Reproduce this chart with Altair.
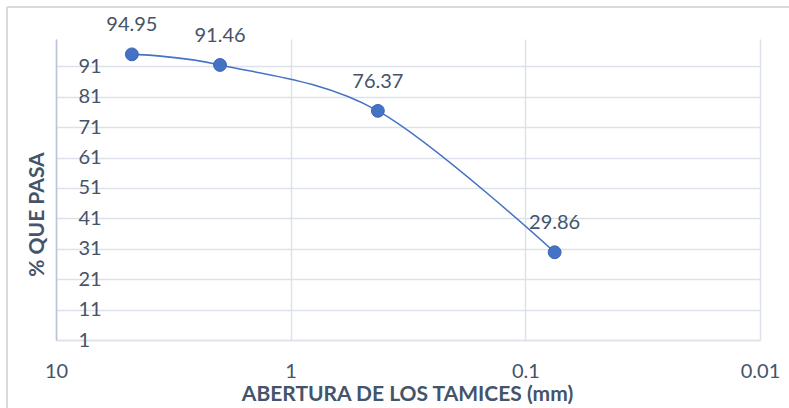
import altair as alt
import pandas as pd

aberturas = [4.75, 2.0, 0.425, 0.075]
pasa = [94.95, 91.46, 76.37, 29.86]
y_ticks = [1, 11, 21, 31, 41, 51, 61, 71, 81, 91]
x_ticks = [10, 1, 0.1, 0.01]

df = pd.DataFrame({"abertura": aberturas, "pasa": pasa})

TXT = "#44546A"
BLUE = "#4472C4"
GRID = "#DDE2EA"
FONT = "Lato"

x_enc = alt.X(
    "abertura:Q",
    scale=alt.Scale(type="log", domain=[0.01, 10], reverse=True, nice=False),
    axis=alt.Axis(
        values=x_ticks, tickCount=20, format="~g", ticks=False, labelPadding=21,
        labelFlush=False, labelOverlap=False,
        labelFont=FONT, labelFontSize=20, labelColor=TXT,
        domainColor=GRID, domainWidth=1.5, gridColor=GRID, gridWidth=1.5,
        title="ABERTURA DE LOS TAMICES (mm)", titleFont=FONT, titleFontSize=21,
        titleFontWeight="bold", titleColor=TXT, titleX=351, titleY=54,
        titleAlign="center", titleBaseline="middle",
    ),
)
y_enc = alt.Y(
    "pasa:Q",
    scale=alt.Scale(domain=[1, 100], nice=False, zero=False),
    axis=alt.Axis(
        values=y_ticks, tickCount=20, ticks=False, labelAlign="left", labelPadding=-22,
        labelBaseline="middle", labelFlush=False, labelOverlap=False,
        labelFont=FONT, labelFontSize=20, labelColor=TXT,
        domainColor="#B7C4DA", domainWidth=1.5, gridColor=GRID, gridWidth=1.5,
        title="% QUE PASA", titleFont=FONT, titleFontSize=21,
        titleFontWeight="bold", titleColor=TXT, titleAngle=270,
        titleX=-19, titleY=175, titleAlign="center", titleBaseline="middle",
    ),
)

base = alt.Chart(df)

frame_left = base.mark_rule(color="#D9D9D9", strokeWidth=1.5).encode(
    x=alt.value(-49), y=alt.value(-32), y2=alt.value(420)
)
frame_top = base.mark_rule(color="#D9D9D9", strokeWidth=1.5).encode(
    x=alt.value(-49), x2=alt.value(800), y=alt.value(-32)
)

line = base.mark_line(interpolate="cardinal", color=BLUE, strokeWidth=1.6).encode(
    x=x_enc, y=y_enc
)
points = base.mark_circle(size=165, color=BLUE, opacity=1, stroke="#3A66B5", strokeWidth=1).encode(
    x="abertura:Q", y="pasa:Q"
)
labels = base.mark_text(
    font=FONT, fontSize=20, color=TXT, dy=-23, baseline="alphabetic", align="center"
).encode(x="abertura:Q", y="pasa:Q", text=alt.Text("pasa:Q", format=".2f"))

chart = alt.layer(line, points, labels, frame_left, frame_top).properties(
    width=704, height=301,
    padding={"left": 56, "top": 39, "right": 29, "bottom": 68},
    autosize=alt.AutoSizeParams(type="none"),
    background="white",
).configure_view(stroke=None)

chart.save("out.html", embed_options={"renderer": "svg", "actions": False})
